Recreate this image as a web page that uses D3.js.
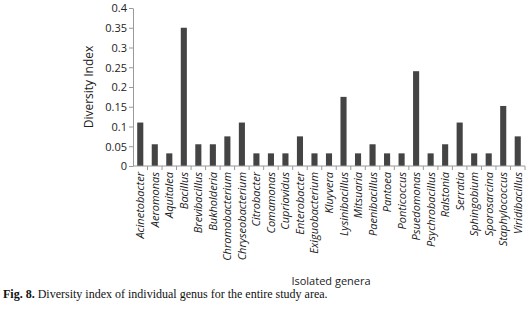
<!DOCTYPE html>
<html>
<head>
<meta charset="utf-8">
<script src="https://cdn.jsdelivr.net/npm/d3@7"></script>
<style>
	body { margin: 0; background: #fff; }
	svg { display: block; }
</style>
</head>
<body>
<div id="chart"></div>
<script>
const genera = ["Acinetobacter", "Aeromonas", "Aquitalea", "Bacillus", "Brevibacillus", "Bukholderia",
	"Chromobacterium", "Chryseobacterium", "Citrobacter", "Comamonas", "Cupriavidus", "Enterobacter",
	"Exiguobacterium", "Kluyvera", "Lysinibacillus", "Mitsuaria", "Paenibacillus", "Pantoea",
	"Ponticoccus", "Psuedomonas", "Psychrobacillus", "Ralstonia", "Serratia", "Sphingobium",
	"Sporosarcina", "Staphylococcus", "Viridibacillus"];
const diversity = [0.11, 0.055, 0.032, 0.35, 0.055, 0.055,
	0.075, 0.11, 0.032, 0.032, 0.032, 0.075,
	0.032, 0.032, 0.175, 0.032, 0.055, 0.032,
	0.032, 0.24, 0.032, 0.055, 0.11, 0.032,
	0.032, 0.152, 0.075];
const yTicks = [0, 0.05, 0.1, 0.15, 0.2, 0.25, 0.3, 0.35, 0.4];

const width = 530, height = 319;
const margin = {top: 8, right: 5, bottom: 153, left: 133};
const sans = "'Open Sans', 'Noto Sans', sans-serif";

const svg = d3.select("#chart").append("svg")
	.attr("width", width)
	.attr("height", height);

const x = d3.scaleBand()
	.domain(genera)
	.range([margin.left, width - margin.right])
	.paddingInner(0.58)
	.paddingOuter(0.29);

const y = d3.scaleLinear()
	.domain([0, 0.4])
	.range([height - margin.bottom, margin.top]);

svg.append("g")
	.selectAll("rect")
	.data(genera.map((g, i) => ({g, v: diversity[i]})))
	.enter()
	.append("rect")
	.attr("x", d => x(d.g))
	.attr("y", d => y(d.v))
	.attr("width", x.bandwidth())
	.attr("height", d => y(0) - y(d.v))
	.attr("fill", "#444");

// y axis
const yAxis = svg.append("g")
	.attr("transform", `translate(${margin.left},0)`)
	.call(d3.axisLeft(y).tickValues(yTicks).tickFormat(d => d3.format("")(+d.toFixed(2))).tickSize(4).tickSizeOuter(0));
yAxis.select(".domain").attr("stroke", "#999");
yAxis.selectAll(".tick line").attr("stroke", "#999");
yAxis.selectAll("text")
	.style("font", `11px ${sans}`)
	.attr("fill", "#222")
	.attr("x", -6)
	.attr("dy", "0.36em");

// x axis: ticks sit between the categories
const xAxis = svg.append("g")
	.attr("transform", `translate(0,${y(0)})`);
xAxis.append("line")
	.attr("x1", margin.left).attr("x2", width - margin.right)
	.attr("stroke", "#999");
const step = x.step();
xAxis.selectAll("line.sep")
	.data(genera)
	.enter()
	.append("line")
	.attr("class", "sep")
	.attr("x1", d => x(d) - step * x.paddingInner() / 2 + step)
	.attr("x2", d => x(d) - step * x.paddingInner() / 2 + step)
	.attr("y1", 0).attr("y2", 4)
	.attr("stroke", "#999");

xAxis.selectAll("text")
	.data(genera)
	.enter()
	.append("text")
	.attr("transform", d => `translate(${x(d) + x.bandwidth() / 2 + 4},6) rotate(-90)`)
	.attr("text-anchor", "end")
	.style("font", `italic 11px ${sans}`)
	.attr("fill", "#222")
	.text(d => d);

svg.append("text")
	.attr("transform", `translate(93,${y(0.2)}) rotate(-90)`)
	.attr("text-anchor", "middle")
	.style("font", `12px ${sans}`)
	.attr("fill", "#222")
	.text("Diversity Index");

svg.append("text")
	.attr("x", 331)
	.attr("y", 285)
	.attr("text-anchor", "middle")
	.style("font", `11px ${sans}`)
	.attr("fill", "#222")
	.text("Isolated genera");

const caption = svg.append("text")
	.attr("x", 3)
	.attr("y", 298)
	.style("font", "12px 'Liberation Serif', 'Times New Roman', serif")
	.attr("fill", "#111");
caption.append("tspan").style("font-weight", "bold").text("Fig. 8.");
caption.append("tspan").text(" Diversity index of individual genus for the entire study area.");
</script>
</body>
</html>
